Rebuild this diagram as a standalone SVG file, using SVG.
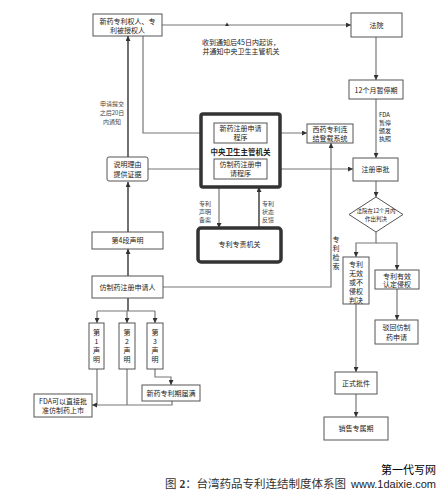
<svg xmlns="http://www.w3.org/2000/svg" width="446" height="498" viewBox="0 0 446 498">
<style>
.b{fill:#fff;stroke:#555;stroke-width:1}
.tk{fill:#fff;stroke:#333;stroke-width:3.5}
.t{font-family:"Noto Sans CJK SC","Noto Sans",sans-serif;font-size:7px;fill:#222;text-anchor:middle}
.s{font-size:6px;fill:#444}
.l{fill:none;stroke:#777;stroke-width:1.2}
.k{fill:none;stroke:#111;stroke-width:1.2}
</style>
<defs>
<marker id="a" viewBox="0 0 6 6" refX="6" refY="3" markerWidth="5" markerHeight="5" orient="auto" markerUnits="userSpaceOnUse"><path d="M0,0L6,3L0,6z" fill="#333"/></marker>
</defs>
<rect width="446" height="498" fill="#fff"/>
<g id="connectors">
<path class="l" d="M162,25H351" marker-end="url(#a)"/>
<path d="M225,26L227,22.5L229,26z" fill="#333"/>
<path class="l" d="M376,37V80" marker-end="url(#a)"/>
<path class="l" d="M376,99V158" marker-end="url(#a)"/>
<path class="l" d="M376,181V197" marker-end="url(#a)"/>
<path class="l" d="M376,232V243H356V257" marker-end="url(#a)"/>
<path class="l" d="M376,243H397V270" marker-end="url(#a)"/>
<path class="l" d="M397,289V320" marker-end="url(#a)"/>
<path class="l" d="M356,304V372" marker-end="url(#a)"/>
<path class="l" d="M356,394V417" marker-end="url(#a)"/>
<path class="k" d="M128,157V36" marker-end="url(#a)"/>
<path class="l" d="M143,36V133H214" marker-end="url(#a)"/>
<path class="l" d="M267,133H307" marker-end="url(#a)"/>
<path class="l" d="M148,169H214" marker-end="url(#a)"/>
<path class="l" d="M267,169H353" marker-end="url(#a)"/>
<path class="l" d="M219,187V228" marker-end="url(#a)"/>
<path class="k" d="M259,228V187" marker-end="url(#a)"/>
<path class="k" d="M128,276V249" marker-end="url(#a)"/>
<path class="k" d="M128,232V182" marker-end="url(#a)"/>
<path class="l" d="M163,287H331V143" marker-end="url(#a)"/>
<path class="k" d="M128,298V311"/>
<path class="l" d="M97,311H155"/>
<path class="l" d="M97,311V323" marker-end="url(#a)"/>
<path class="l" d="M127,311V323" marker-end="url(#a)"/>
<path class="l" d="M155,311V323" marker-end="url(#a)"/>
<path class="l" d="M155,369V377H171V385" marker-end="url(#a)"/>
<path class="l" d="M97,369V405"/>
<path class="l" d="M127,369V405"/>
<path class="l" d="M172,401V405H92" marker-end="url(#a)"/>
</g>
<g id="n1"><rect class="b" x="93" y="14" width="69" height="22"/><text class="t" x="127.5" y="24">新药专利权人、专</text><text class="t" x="127.5" y="33">利被授权人</text></g>
<g id="n2"><rect class="b" x="351" y="13" width="51" height="24"/><text class="t" x="376.5" y="27.5">法院</text></g>
<g id="n3"><rect class="b" x="349" y="80" width="54" height="19"/><text class="t" x="376" y="92.5">12个月暂停期</text></g>
<g id="n4"><rect class="b" x="307" y="124" width="46" height="19"/><text class="t" x="330" y="132">西药专利连</text><text class="t" x="330" y="140.5">结登载系统</text></g>
<g id="n5"><rect class="b" x="353" y="158" width="45" height="23"/><text class="t" x="375.5" y="172">注册审批</text></g>
<g id="n6"><polygon class="b" points="376,197 403,214.5 376,232 349,214.5"/><text class="t" style="font-size:5.5px" x="376" y="213">法院在12个月内</text><text class="t" style="font-size:5.5px" x="376" y="221">作出判决</text></g>
<g id="n7"><rect class="b" x="343" y="257" width="26" height="47"/><text class="t" x="356" y="267">专利</text><text class="t" x="356" y="276">无效</text><text class="t" x="356" y="285">或不</text><text class="t" x="356" y="294">侵权</text><text class="t" x="356" y="303">判决</text></g>
<g id="n8"><rect class="b" x="375" y="270" width="44" height="19"/><text class="t" x="397" y="278.5">专利有效</text><text class="t" x="397" y="287">认定侵权</text></g>
<g id="n9"><rect class="b" x="375" y="320" width="43" height="24"/><text class="t" x="396.5" y="330">驳回仿制</text><text class="t" x="396.5" y="339.5">药申请</text></g>
<g id="n10"><rect class="b" x="335" y="372" width="42" height="22"/><text class="t" x="356" y="385.5">正式批件</text></g>
<g id="n11"><rect class="b" x="324" y="417" width="64" height="23"/><text class="t" x="356" y="431">销售专属期</text></g>
<g id="n12"><rect class="tk" x="201" y="114" width="79" height="73" rx="2"/><text class="t" style="font-weight:bold;font-size:7.5px" x="240.5" y="155">中央卫生主管机关</text></g>
<g id="n13"><rect class="b" x="214" y="123" width="53" height="20"/><text class="t" x="240.5" y="131">新药注册申请</text><text class="t" x="240.5" y="140">程序</text></g>
<g id="n14"><rect class="b" x="214" y="159" width="53" height="20"/><text class="t" x="240.5" y="167">仿制药注册申</text><text class="t" x="240.5" y="176">请程序</text></g>
<g id="n15"><rect class="b" x="107" y="157" width="41" height="24" rx="2"/><text class="t" x="127.5" y="167">说明理由</text><text class="t" x="127.5" y="176.5">提供证据</text></g>
<g id="n16"><rect class="b" x="92" y="232" width="71" height="17"/><text class="t" x="127.5" y="243">第4段声明</text></g>
<g id="n17"><rect class="b" x="92" y="276" width="71" height="22"/><text class="t" x="127.5" y="289.5">仿制药注册申请人</text></g>
<g id="n18"><rect class="b" x="89" y="323" width="15" height="46"/><text class="t" x="96.5" y="335">第</text><text class="t" x="96.5" y="344">1</text><text class="t" x="96.5" y="353">声</text><text class="t" x="96.5" y="362">明</text></g>
<g id="n19"><rect class="b" x="119" y="323" width="16" height="46"/><text class="t" x="127" y="335">第</text><text class="t" x="127" y="344">2</text><text class="t" x="127" y="353">声</text><text class="t" x="127" y="362">明</text></g>
<g id="n20"><rect class="b" x="147" y="323" width="16" height="46"/><text class="t" x="155" y="335">第</text><text class="t" x="155" y="344">3</text><text class="t" x="155" y="353">声</text><text class="t" x="155" y="362">明</text></g>
<g id="n21"><rect class="b" x="142" y="385" width="58" height="16"/><text class="t" x="171" y="395.5">新药专利期届满</text></g>
<g id="n22"><rect class="b" x="34" y="394" width="58" height="23"/><text class="t" x="63" y="403.5">FDA可以直接批</text><text class="t" x="63" y="412.5">准仿制药上市</text></g>
<g id="n23"><rect class="tk" x="198" y="228" width="83" height="34" rx="3"/><text class="t" x="239.5" y="247">专利专责机关</text></g>
<g id="labels">
<text class="t" x="241" y="44.5">收到通知后45日内起诉，</text>
<text class="t" x="241" y="54">并通知中央卫生主管机关</text>
<text class="t s" x="112" y="106">申请提交</text>
<text class="t s" x="112" y="115">之后20日</text>
<text class="t s" x="112" y="124">内通知</text>
<text class="t s" style="text-anchor:start;fill:#222" x="379" y="117">FDA</text>
<text class="t s" style="text-anchor:start;fill:#222" x="379" y="125">暂停</text>
<text class="t s" style="text-anchor:start;fill:#222" x="379" y="133">颁发</text>
<text class="t s" style="text-anchor:start;fill:#222" x="379" y="141">执照</text>
<text class="t s" x="205" y="205.5">专利</text>
<text class="t s" x="205" y="213.5">声明</text>
<text class="t s" x="205" y="222">备案</text>
<text class="t s" x="268" y="205.5">专利</text>
<text class="t s" x="268" y="213.5">状态</text>
<text class="t s" x="268" y="222">反馈</text>
<text class="t" x="336" y="241.5">专</text>
<text class="t" x="336" y="251">利</text>
<text class="t" x="336" y="260">检</text>
<text class="t" x="336" y="269">索</text>
</g>
<g id="caption">
<text x="165" y="488" style="font-family:'Liberation Serif','Noto Sans CJK SC',serif;font-size:11.5px;fill:#333">图 <tspan font-weight="bold">2</tspan>：台湾药品专利连结制度体系图</text>
<text x="436" y="474" style="font-family:'Noto Sans CJK SC',sans-serif;font-size:11px;fill:#000;text-anchor:end">第一代写网</text>
<text x="436" y="488" style="font-family:'Liberation Sans',sans-serif;font-size:11px;fill:#222;text-anchor:end">www.1daixie.com</text>
</g>
</svg>
